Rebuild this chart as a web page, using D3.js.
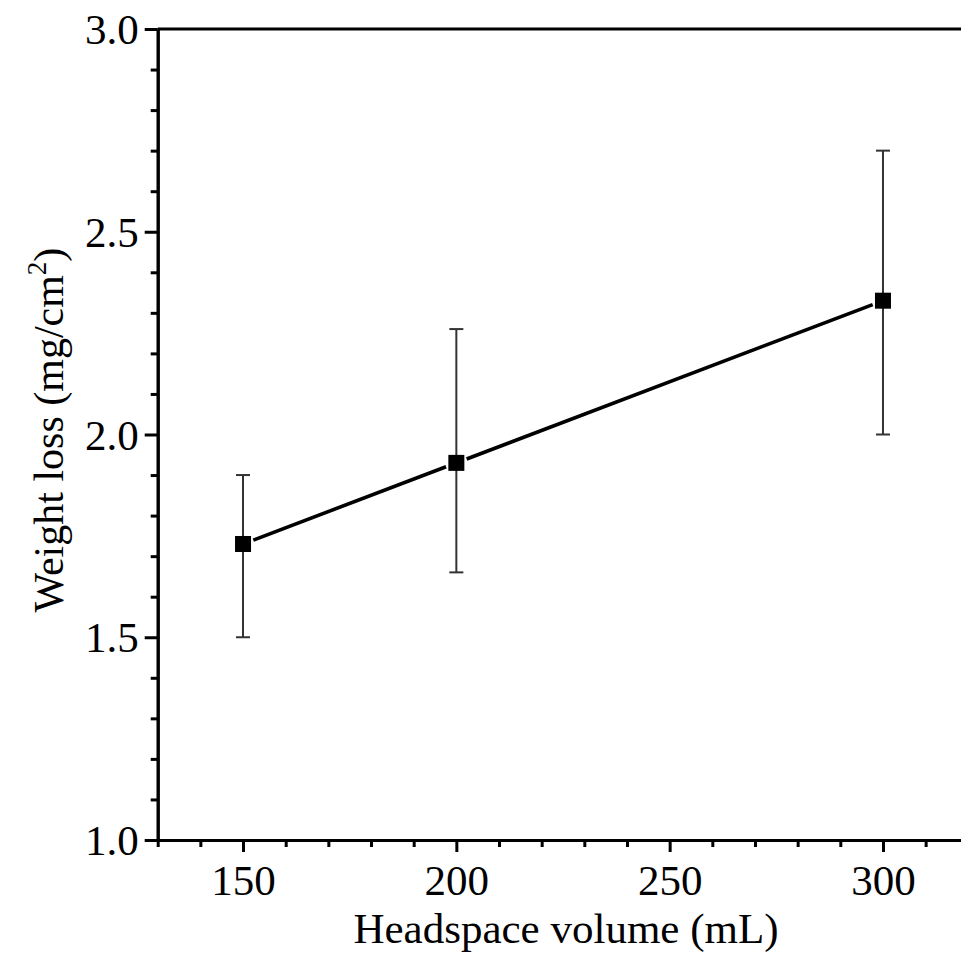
<!DOCTYPE html>
<html>
<head>
<meta charset="utf-8">
<script src="https://cdn.jsdelivr.net/npm/d3@7"></script>
<style>
  html, body { margin: 0; padding: 0; background: #fff; }
  svg { display: block; }
  text { font-family: "Liberation Serif", "Times New Roman", serif; fill: #000; }
</style>
</head>
<body>
<svg id="chart" width="961" height="959"></svg>
<script>
// Headspace volume (mL) and measured weight loss (mg/cm^2)
const volumes = [150, 200, 300];
const weightLoss = [1.73, 1.93, 2.33];
const errUpper = [1.90, 2.26, 2.70];
const errLower = [1.50, 1.66, 2.00];

const xTicks = [150, 200, 250, 300];
const xMinorTicks = [130, 140, 160, 170, 180, 190, 210, 220, 230, 240, 260, 270, 280, 290, 310, 320];
const yTicks = [1.0, 1.5, 2.0, 2.5, 3.0];
const yMinorTicks = d3.range(10, 31).map(d => d / 10).filter(d => !yTicks.includes(d));

const xDomain = [130, 320];
const yDomain = [1.0, 3.0];

const svg = d3.select("#chart");
const plotLeft = 157.7, plotRight = 968.3, plotTop = 29, plotBottom = 840;

const x = d3.scaleLinear().domain(xDomain).range([plotLeft, plotRight]);
const y = d3.scaleLinear().domain(yDomain).range([plotBottom, plotTop]);

const axisW = 3;

// frame: top and right edges
svg.append("line")
  .attr("x1", x(xDomain[0])).attr("x2", x(xDomain[1]))
  .attr("y1", y(yDomain[1])).attr("y2", y(yDomain[1]))
  .attr("stroke", "#000").attr("stroke-width", axisW);
svg.append("line")
  .attr("x1", x(xDomain[1])).attr("x2", x(xDomain[1]))
  .attr("y1", y(yDomain[0])).attr("y2", y(yDomain[1]))
  .attr("stroke", "#000").attr("stroke-width", axisW);

function styleAxis(g) {
  g.select(".domain").attr("stroke", "#000").attr("stroke-width", axisW);
  g.selectAll(".tick line").attr("stroke", "#000").attr("stroke-width", axisW);
}

// x axis: minor then major ticks
svg.append("g")
  .attr("transform", `translate(0,${plotBottom})`)
  .call(d3.axisBottom(x).tickValues(xMinorTicks).tickSize(7).tickSizeOuter(0).tickFormat(""))
  .call(styleAxis);
const gx = svg.append("g")
  .attr("transform", `translate(0,${plotBottom})`)
  .call(d3.axisBottom(x).tickValues(xTicks).tickSize(12).tickSizeOuter(0).tickPadding(12).tickFormat(d3.format("d")))
  .call(styleAxis);
gx.selectAll(".tick text").attr("font-size", 43).attr("dy", "0.71em")
  .style("font-family", '"Liberation Serif", serif').attr("fill", "#000");

// y axis: minor then major ticks
svg.append("g")
  .attr("transform", `translate(${plotLeft},0)`)
  .call(d3.axisLeft(y).tickValues(yMinorTicks).tickSize(7).tickSizeOuter(0).tickFormat(""))
  .call(styleAxis);
const gy = svg.append("g")
  .attr("transform", `translate(${plotLeft},0)`)
  .call(d3.axisLeft(y).tickValues(yTicks).tickSize(13).tickSizeOuter(0).tickPadding(6).tickFormat(d3.format(".1f")))
  .call(styleAxis);
gy.selectAll(".tick text").attr("font-size", 43).attr("dy", "0.34em")
  .style("font-family", '"Liberation Serif", serif').attr("fill", "#000");

// axis titles
svg.append("text")
  .attr("x", 566).attr("y", 943)
  .attr("text-anchor", "middle")
  .attr("font-size", 43)
  .text("Headspace volume (mL)");

const yTitle = svg.append("text")
  .attr("transform", "translate(63,430) rotate(-90)")
  .attr("text-anchor", "middle")
  .attr("font-size", 42);
yTitle.append("tspan").text("Weight loss (mg/cm");
yTitle.append("tspan").attr("font-size", 27).attr("dy", -17).text("2");
yTitle.append("tspan").attr("dy", 17).text(")");

const pts = volumes.map((v, i) => ({ v, w: weightLoss[i], hi: errUpper[i], lo: errLower[i] }));

// error bars
const capHalf = 7;
const eb = svg.append("g").attr("stroke", "#333").attr("stroke-width", 2);
pts.forEach(p => {
  eb.append("line").attr("x1", x(p.v)).attr("x2", x(p.v)).attr("y1", y(p.hi)).attr("y2", y(p.lo));
  eb.append("line").attr("x1", x(p.v) - capHalf).attr("x2", x(p.v) + capHalf).attr("y1", y(p.hi)).attr("y2", y(p.hi));
  eb.append("line").attr("x1", x(p.v) - capHalf).attr("x2", x(p.v) + capHalf).attr("y1", y(p.lo)).attr("y2", y(p.lo));
});

// connecting line, with a small gap left around each marker
const gap = 11;
for (let i = 0; i < pts.length - 1; i++) {
  const x0 = x(pts[i].v), y0 = y(pts[i].w), x1 = x(pts[i + 1].v), y1 = y(pts[i + 1].w);
  const len = Math.hypot(x1 - x0, y1 - y0), ux = (x1 - x0) / len, uy = (y1 - y0) / len;
  svg.append("line")
    .attr("x1", x0 + ux * gap).attr("y1", y0 + uy * gap)
    .attr("x2", x1 - ux * gap).attr("y2", y1 - uy * gap)
    .attr("stroke", "#000").attr("stroke-width", 3.6);
}

// square markers
const ms = 16;
svg.append("g").selectAll("rect").data(pts).join("rect")
  .attr("x", d => x(d.v) - ms / 2).attr("y", d => y(d.w) - ms / 2)
  .attr("width", ms).attr("height", ms)
  .attr("fill", "#000");
</script>
</body>
</html>
